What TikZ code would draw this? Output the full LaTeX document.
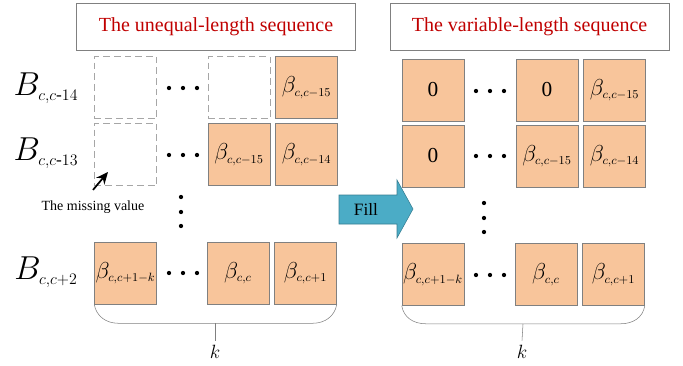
\documentclass[tikz,border=0pt]{standalone}
\usepackage{fontspec}
\setmainfont{Liberation Serif}
\usetikzlibrary{arrows.meta,positioning,calc}

\definecolor{cellfill}{HTML}{F8C59B}
\definecolor{cellline}{HTML}{808080}
\definecolor{titlered}{HTML}{C00000}
\definecolor{fillteal}{HTML}{4BACC6}
\definecolor{fillline}{HTML}{357D91}

% base symbol with a small, tightly set index of given size
\newcommand{\lowidx}[3]{$#2_{\hbox{\fontsize{#1}{#1}\selectfont\thinmuskip=0mu\medmuskip=0mu$#3$}}$}

\begin{document}
\begin{tikzpicture}[x=0.75pt, y=-0.75pt, node distance=3.75pt and 3.75pt, >=Stealth,
  cell/.style={draw=cellline, fill=cellfill, minimum size=46.5pt, inner sep=0pt, font=\fontsize{16}{16}\selectfont},
  gapcell/.style={draw=gray!70, dash pattern=on 5pt off 3pt, minimum size=46.5pt, inner sep=0pt},
  headbox/.style={draw=cellline, minimum width=209pt, minimum height=35pt, text=titlered, font=\fontsize{15}{15}\selectfont},
  rowlab/.style={font=\fontsize{23}{23}\selectfont},
  dotmark/.style={fill=black}]
\useasboundingbox (0,0) rectangle (683,365);

% titles
\node[headbox] (lhead) at (216,26.5) {The unequal-length sequence};
\node[headbox] (rhead) at (529.5,26.5) {The variable-length sequence};

% left grid
\node[gapcell] (l11) at (125.5,87.5) {};
\node[gapcell] (l12) at (239,87.5) {};
\node[cell] (l13) [right=of l12] {\lowidx{9}{\beta}{c,c-15}};
\node[gapcell] (l21) at (125.5,154.5) {};
\node[cell] (l22) at (239,154.5) {\lowidx{9}{\beta}{c,c-15}};
\node[cell] (l23) [right=of l22] {\lowidx{9}{\beta}{c,c-14}};
\node[cell] (l31) at (125.5,273) {\lowidx{9}{\beta}{c,c+1-k}};
\node[cell] (l32) at (238,273) {\lowidx{9}{\beta}{c,c}};
\node[cell] (l33) [right=of l32] {\lowidx{9}{\beta}{c,c+1}};

\node[rowlab] (b1) at (46,88) {\lowidx{13}{B}{c,c\textrm{-}14}};
\node[rowlab] (b2) at (46,153) {\lowidx{13}{B}{c,c\textrm{-}13}};
\node[rowlab] (b3) at (46,272) {\lowidx{13}{B}{c,c+2}};

% right grid
\node[cell] (r11) at (433,90) {0};
\node[cell] (r12) at (547,90) {0};
\node[cell] (r13) [right=of r12] {\lowidx{9}{\beta}{c,c-15}};
\node[cell] (r21) at (433,156) {0};
\node[cell] (r22) at (547,156) {\lowidx{9}{\beta}{c,c-15}};
\node[cell] (r23) [right=of r22] {\lowidx{9}{\beta}{c,c-14}};
\node[cell] (r31) at (433,274.5) {\lowidx{9}{\beta}{c,c+1-k}};
\node[cell] (r32) at (546,274.5) {\lowidx{9}{\beta}{c,c}};
\node[cell] (r33) [right=of r32] {\lowidx{9}{\beta}{c,c+1}};

% dots
\foreach \y in {88,155,273} \foreach \x in {169,183,197} \fill[dotmark] (\x,\y) circle (1.6pt);
\foreach \y in {91,156,275} \foreach \x in {476,490,504} \fill[dotmark] (\x,\y) circle (1.6pt);
\foreach \y in {197,212,226} \fill[dotmark] (181,\y) circle (1.6pt);
\foreach \y in {203,218,232} \fill[dotmark] (484,\y) circle (1.6pt);

% missing value
\node[font=\fontsize{10.5}{10.5}\selectfont] (miss) at (93,207) {The missing value};
\coordinate (misstip) at (108,172);
\draw[-{Stealth[length=9pt,width=8pt]}, line width=1.3pt] ($(miss.north)+(0,-6)$) -- (misstip);

% fill arrow
\filldraw[fill=fillteal, draw=fillline] (339,195) -- (397,195) -- (397,180) -- (413,209) -- (397,238) -- (397,224) -- (339,224) -- cycle;
\node[font=\fontsize{13}{13}\selectfont] (fill) at (366,209) {Fill};

% braces
\coordinate (lmid) at (215,323);
\coordinate (rmid) at (523,324);
\draw[cellline] (l31.south west) .. controls +(2,12) and +(-12,0) .. ($(l31.south west)+(24,19)$) -- ($(l33.south east)+(-24,19)$) .. controls +(12,0) and +(-2,12) .. (l33.south east);
\draw[cellline] (r31.south west) .. controls +(2,12) and +(-12,0) .. ($(r31.south west)+(24,18)$) -- ($(r33.south east)+(-24,18)$) .. controls +(12,0) and +(-2,12) .. (r33.south east);
\node[font=\fontsize{15}{15}\selectfont] (lk) at (215,352) {$k$};
\node[font=\fontsize{15}{15}\selectfont] (rk) at (522,352) {$k$};
\draw[cellline] (lmid) -- (lk.north);
\draw[cellline] (rmid) -- (rk.north);
\end{tikzpicture}
\end{document}
